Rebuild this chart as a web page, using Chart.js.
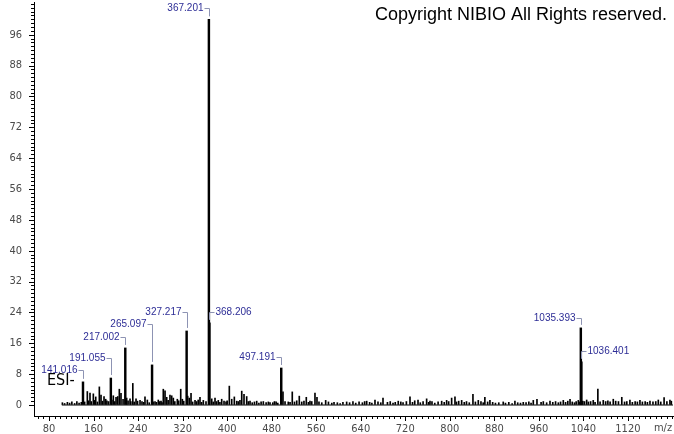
<!DOCTYPE html>
<html><head><meta charset="utf-8">
<script src="https://cdn.jsdelivr.net/npm/chart.js@4.4.0/dist/chart.umd.min.js"></script>
<style>html,body{margin:0;padding:0;background:#fff;overflow:hidden}</style>
</head><body>
<canvas id="c" width="674" height="434"></canvas>
<script>
// ---- tick labels ----
const xTickLabels = [80,160,240,320,400,480,560,640,720,800,880,960,1040,1120];
const yTickLabels = [0,8,16,24,32,40,48,56,64,72,80,88,96];

// ---- annotated peaks ----
const majorMz  = [141.016,191.055,217.002,265.097,327.217,367.201,368.206,497.191,1035.393,1036.401];
const majorInt = [6.0,7.0,14.8,10.4,19.2,100,21.3,9.6,20.0,11.2];
const labelText = ['141.016','191.055','217.002','265.097','327.217','367.201','368.206','497.191','1035.393','1036.401'];
const labelLevel = [9.3,12.5,17.9,21.3,24.4,103.2,24.4,12.7,22.8,14.3];
const labelSide = ['left','left','left','left','left','left','right','left','left','right'];

// ---- smaller peaks ----
const minorMz = [148.8,153.6,159.6,163.9,170.4,173.4,178.8,181.8,195.5,200.4,203.4,206.3,209.3,219.5,225.5,230.5,236.3,243.5,252.4,256.6,
  270.4,276.3,281.2,285.3,288.4,291.4,297.3,300.4,303.3,310.5,316.6,319.5,329.1,332.0,335.1,342.3,351.2,357.2,372.3,378.2,
  384.1,390.2,394.4,403.9,408.2,412.9,417.2,426.2,430.3,435.1,441.1,453.1,465,477,488,500.3,509.8,517,529.6,542.2,
  548.8,557.8,561.4,577,614.7,650.7,665.6,680,707.4,728.5,742.9,758.4,764.4,785.4,794.3,803.3,809.3,821.3,841.6,851.2,
  863,872.1,896,917,932,950,956.6,980,1003.9,1016,1030.9,1045.9,1057.7,1066,1075.7,1093.7,1109,1123.6,1141.6,1159.6,
  1174.6,1185,1195.5];
const minorInt = [3.5,3.1,2.9,2.1,4.7,2.6,2.2,1.5,2.4,2.0,2.2,4.1,3.0,1.8,1.6,5.6,1.6,1.2,2.1,1.3,
  0.9,1.3,1.0,4.1,3.7,2.0,2.6,2.4,1.8,1.5,4.1,1.5,2.3,1.8,3.0,1.2,2.0,1.2,1.6,1.8,
  1.2,1.5,1.0,4.9,1.5,2.1,1.0,3.6,2.8,2.2,1.0,1.0,0.9,0.6,0.8,3.4,0.8,3.4,2.3,2.0,
  1.0,3.1,2.0,1.2,0.8,1.0,1.3,1.8,1.0,2.1,1.3,1.6,1.0,1.0,1.2,1.8,2.1,1.2,2.8,1.2,
  2.0,1.2,0.8,1.0,0.7,1.2,1.5,1.0,1.2,1.5,1.2,1.3,1.2,4.1,1.2,1.5,2.0,1.3,1.2,1.0,
  1.3,1.9,1.3];

// ---- baseline noise ----
const noiseMz = [104,108,113,117,121,126,130,134,138,144,151,156,162,167,176,184,187,193,198,213,222,227,233,239,247,250,260,267,273,279,
  283,294,306,313,322,338,345,348,354,362,375,381,387,398,400,420,423,438,445,449,457,461,470,474,482,485,491,504,513,521,
  525,534,538,546,552,565,570,582,588,592,598,603,608,620,626,631,637,643,647,656,660,671,676,688,693,698,702,712,716,722,
  733,737,747,752,762,768,773,779,790,798,812,816,826,830,835,846,856,860,868,877,882,888,900,906,912,922,927,937,942,946,
  964,968,974,985,990,995,999,1008,1012,1020,1024,1027,1033,1039,1042,1049,1053,1061,1070,1080,1084,1088,1098,1103,1114,1118,1128,1133,1137,1146,
  1151,1155,1165,1170,1179,1190,1198];
const noiseInt = [0.6,0.4,0.7,0.5,0.8,0.4,0.9,0.5,0.7,0.8,1.1,0.9,1.2,0.8,1.0,1.1,0.9,1.3,0.9,1.5,1.1,0.9,0.8,1.0,0.9,0.7,0.6,0.8,0.7,0.9,
  0.6,1.2,0.9,1.1,1.0,0.8,0.9,1.3,0.7,0.9,0.8,0.9,0.7,0.8,1.1,0.9,1.2,0.9,0.6,0.8,0.5,0.8,0.6,0.8,0.6,0.9,0.5,0.9,0.7,0.8,
  1.1,0.8,1.0,0.7,0.9,0.8,0.6,0.8,0.5,0.7,0.6,0.4,0.7,0.6,0.9,0.5,0.8,0.6,0.9,0.7,0.5,0.8,0.6,0.7,0.9,0.5,0.7,0.8,0.6,0.9,
  0.7,1.1,0.6,0.9,0.7,0.9,0.5,0.8,0.7,0.9,0.8,1.0,0.7,0.9,0.6,0.8,0.9,0.6,0.8,0.7,0.5,0.6,0.5,0.7,0.4,0.6,0.5,0.6,0.8,0.5,
  0.7,0.9,0.6,0.7,0.9,0.6,0.8,0.7,1.0,0.8,0.6,0.9,0.8,1.0,0.9,0.8,0.9,0.7,0.8,0.9,1.1,0.8,1.0,0.9,0.8,0.9,0.7,0.9,0.8,0.8,
  0.9,0.7,0.8,0.9,0.8,0.9,1.0];

const baselineMz = [103, 1201];

const TICK_FONT = '"Liberation Sans Narrow","DejaVu Sans Condensed","Liberation Sans",sans-serif';
const LABEL_FONT = '"Liberation Sans",Arial,sans-serif';

const smallData = minorMz.map((m,i)=>({x:m,y:minorInt[i]})).concat(noiseMz.map((m,i)=>({x:m,y:noiseInt[i]})));
const majorData = majorMz.map((m,i)=>({x:m,y:majorInt[i]}));

const decor = {
  id:'decor',
  afterDatasetsDraw(chart){
    const ctx = chart.ctx, xs = chart.scales.x, ys = chart.scales.y;
    ctx.save();
    ctx.font = '10px ' + LABEL_FONT;
    ctx.textBaseline = 'middle';
    for(let i=0;i<majorMz.length;i++){
      const px = Math.round(xs.getPixelForValue(majorMz[i])) + 0.5;
      const top = ys.getPixelForValue(majorInt[i]);
      const ly = Math.round(ys.getPixelForValue(labelLevel[i]));
      ctx.strokeStyle = '#8d93b3';
      ctx.lineWidth = 1;
      ctx.beginPath();
      if(labelSide[i]==='left'){
        ctx.moveTo(px-5, ly+1.5); ctx.lineTo(px, ly+1.5); ctx.lineTo(px, top-3);
      } else {
        ctx.moveTo(px+5, ly+1.5); ctx.lineTo(px, ly+1.5); ctx.lineTo(px, top-3);
      }
      ctx.stroke();
      ctx.fillStyle = '#2d2d96';
      if(labelSide[i]==='left'){ ctx.textAlign='right'; ctx.fillText(labelText[i], px-6, ly+1); }
      else { ctx.textAlign='left'; ctx.fillText(labelText[i], px+6, ly+1); }
    }
    ctx.restore();
  },
  afterDraw(chart){
    const ctx = chart.ctx, xs = chart.scales.x, ys = chart.scales.y, ca = chart.chartArea;
    ctx.save();
    ctx.strokeStyle = '#000'; ctx.lineWidth = 1;
    ctx.beginPath();
    xs.ticks.forEach(t=>{
      const p=Math.round(xs.getPixelForValue(t.value))+0.5;
      const len = xTickLabels.includes(t.value) ? 5 : 3;
      ctx.moveTo(p, ca.bottom); ctx.lineTo(p, ca.bottom+len);
    });
    ys.ticks.forEach(t=>{
      const p=Math.round(ys.getPixelForValue(t.value))+0.5;
      const len = yTickLabels.includes(t.value) ? 5 : 3;
      ctx.moveTo(ca.left-len, p); ctx.lineTo(ca.left, p);
    });
    ctx.stroke();
    ctx.fillStyle = '#000';
    ctx.font = '18px ' + LABEL_FONT;
    ctx.textAlign = 'right'; ctx.textBaseline = 'alphabetic';
    ctx.fillText('Copyright NIBIO All Rights reserved.', 667, 20);
    ctx.font = '16px ' + TICK_FONT;
    ctx.textAlign = 'left';
    ctx.fillText('ESI-', 47, 385);
    ctx.fillStyle = '#4a4a4a';
    ctx.font = '11px ' + TICK_FONT;
    ctx.textAlign = 'center'; ctx.textBaseline = 'middle';
    ctx.fillText('m/z', 663, 428);
    ctx.restore();
  }
};

const zeroPad = s => { s.paddingTop = 0; s.paddingBottom = 0; s.paddingLeft = 0; s.paddingRight = 0; };

new Chart(document.getElementById('c'), {
  type:'bar',
  data:{
    datasets:[
      {type:'line', data: baselineMz.map(m=>({x:m,y:0})), borderColor:'#000', borderWidth:1, pointRadius:0, order:3},
      {type:'bar', data: smallData, backgroundColor:'#000', barThickness:1, grouped:false, order:2},
      {type:'bar', data: majorData, backgroundColor:'#000', barThickness:1.8, grouped:false, order:1}
    ]
  },
  options:{
    responsive:false, animation:false, devicePixelRatio:1,
    layout:{padding:{top:2,right:1,left:0,bottom:0}},
    plugins:{legend:{display:false}, tooltip:{enabled:false}},
    scales:{
      x:{
        type:'linear', min:53, max:1201, offset:false,
        grid:{display:true, offset:false, drawOnChartArea:false, drawTicks:true, tickLength:2, color:'rgba(0,0,0,0)', tickColor:'rgba(0,0,0,0)'},
        border:{display:true, color:'#000', width:1},
        afterBuildTicks:s=>{ const t=[]; for(let v=60; v<=1200; v+=10) t.push({value:v}); s.ticks=t; },
        ticks:{autoSkip:false, maxRotation:0, minRotation:0, padding:5, color:'#4a4a4a',
          font:{family:TICK_FONT, size:11},
          callback:v=> xTickLabels.includes(v) ? String(v) : ''},
        afterFit:s=>{ s.height = 18; zeroPad(s); }
      },
      y:{
        type:'linear', min:-2.85, max:104.5,
        grid:{display:true, drawOnChartArea:false, drawTicks:true, tickLength:2, color:'rgba(0,0,0,0)', tickColor:'rgba(0,0,0,0)'},
        border:{display:true, color:'#000', width:1},
        afterBuildTicks:s=>{ const t=[]; for(let v=0; v<=104; v+=1) t.push({value:v}); s.ticks=t; },
        ticks:{autoSkip:false, padding:10, color:'#4a4a4a',
          font:{family:TICK_FONT, size:11},
          callback:v=> yTickLabels.includes(v) ? String(v) : ''},
        afterFit:s=>{ s.width = 34; zeroPad(s); }
      }
    }
  },
  plugins:[decor]
});
</script>
</body></html>
